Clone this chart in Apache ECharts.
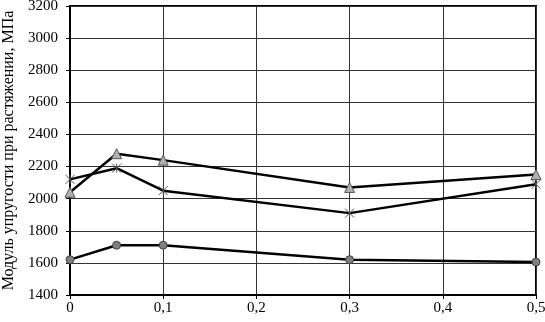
<!DOCTYPE html>
<html><head><meta charset="utf-8">
<script src="https://cdn.jsdelivr.net/npm/echarts@6/dist/echarts.min.js"></script>
<style>html,body{margin:0;padding:0;background:#fff}#c{width:545px;height:322px}</style>
</head><body><div id="c"></div>
<script>
const xValues = [0, 0.05, 0.1, 0.3, 0.5];
const triangleSeries = [2040, 2280, 2240, 2070, 2150];
const crossSeries = [2120, 2190, 2050, 1910, 2090];
const circleSeries = [1620, 1710, 1710, 1620, 1605];
const yTicks = [1400, 1600, 1800, 2000, 2200, 2400, 2600, 2800, 3000, 3200];
const yName = 'Модуль упругости при растяжении, МПа';

const font = 'Liberation Serif';
const chart = echarts.init(document.getElementById('c'));
const pts = arr => xValues.map((x, i) => [x, arr[i]]);
chart.setOption({
  animation: false,
  grid: {left: 70, right: 9, top: 6, bottom: 27, containLabel: false, outerBoundsMode: 'none',
    show: true, borderColor: '#000', borderWidth: 2, backgroundColor: '#fff'},
  xAxis: {
    type: 'value', min: 0, max: 0.5, interval: 0.1,
    axisLine: {show: true, lineStyle: {color: '#000', width: 2}},
    axisTick: {show: true, length: 4, lineStyle: {color: '#000'}},
    axisLabel: {color: '#000', fontFamily: font, fontSize: 15, margin: 6,
      formatter: v => v === 0 ? '0' : v.toFixed(1).replace('.', ',')},
    splitLine: {show: true, lineStyle: {color: '#333', width: 1}}
  },
  yAxis: {
    type: 'value', min: yTicks[0], max: yTicks[yTicks.length - 1], interval: 200,
    name: yName, nameLocation: 'middle', nameGap: 51,
    nameTextStyle: {color: '#000', fontFamily: font, fontSize: 16},
    axisLine: {show: true, lineStyle: {color: '#000', width: 2}},
    axisTick: {show: true, length: 4, lineStyle: {color: '#000'}},
    axisLabel: {color: '#000', fontFamily: font, fontSize: 15, margin: 12,
      formatter: v => String(v)},
    splitLine: {show: true, lineStyle: {color: '#333', width: 1}}
  },
  series: [
    {type: 'line', data: pts(triangleSeries), symbol: 'triangle', symbolSize: 10,
      lineStyle: {color: '#000', width: 2.5},
      itemStyle: {color: '#b0b0b0', borderColor: '#555', borderWidth: 1}},
    {type: 'line', data: pts(crossSeries), symbol: 'path://M0,0L10,10M10,0L0,10M5,0L5,10', symbolSize: 9,
      lineStyle: {color: '#000', width: 2.5},
      itemStyle: {color: 'none', borderColor: '#555', borderWidth: 1}},
    {type: 'line', data: pts(circleSeries), symbol: 'circle', symbolSize: 8,
      lineStyle: {color: '#000', width: 2.5},
      itemStyle: {color: '#808080', borderColor: '#444', borderWidth: 1}}
  ]
});
</script></body></html>
